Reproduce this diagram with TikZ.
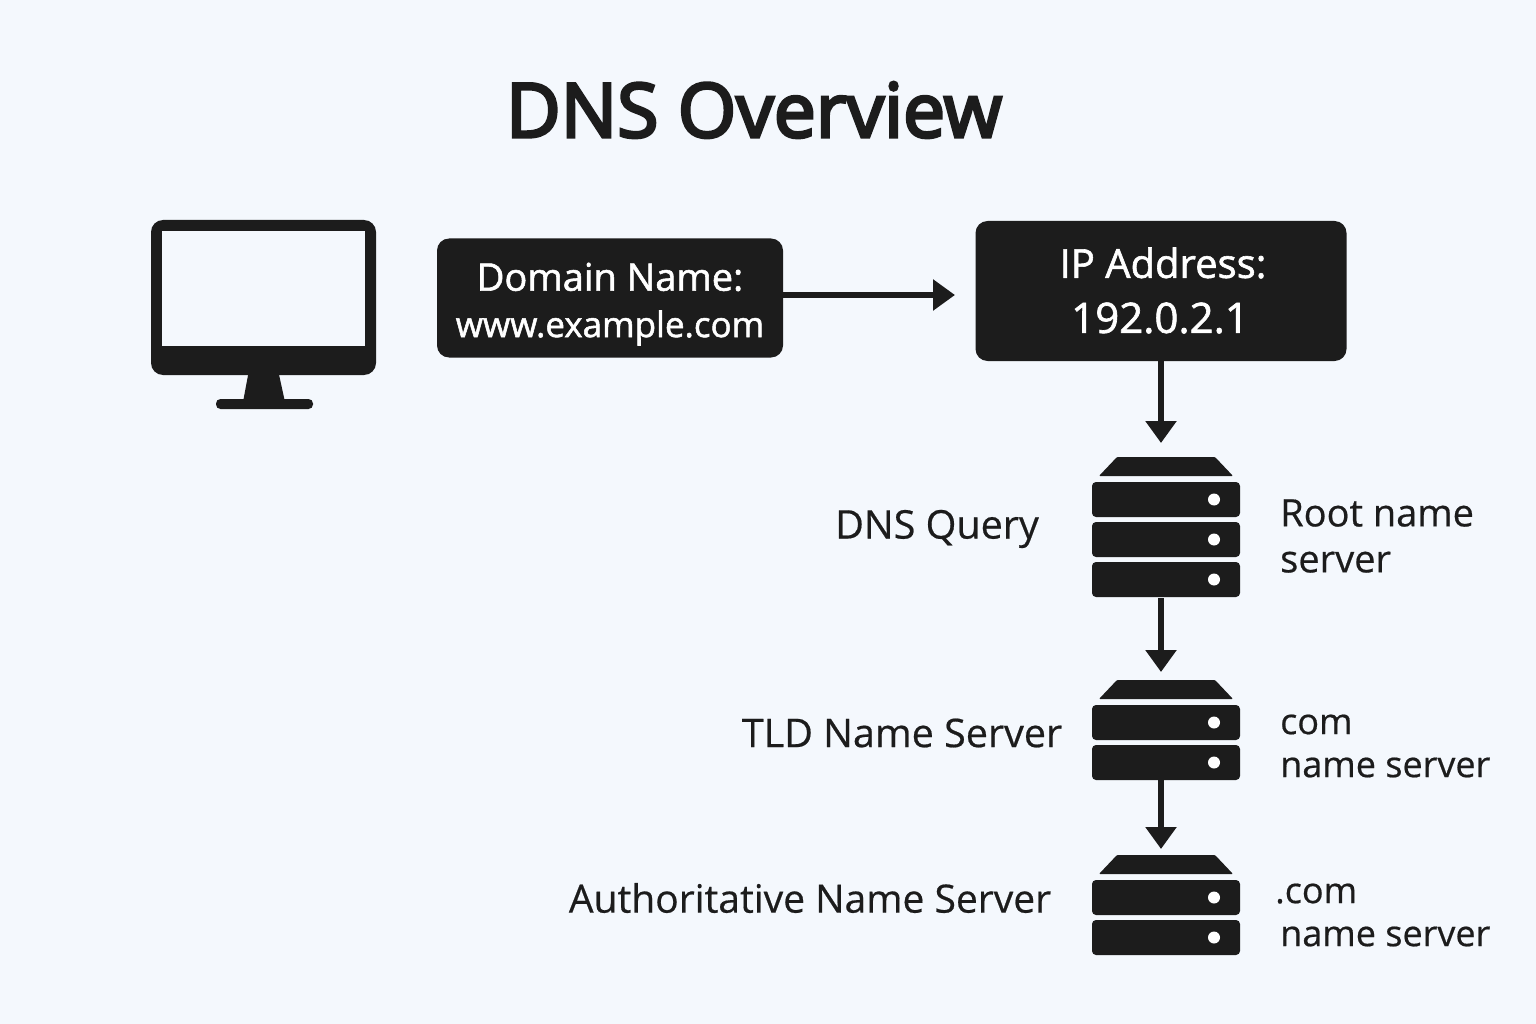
\documentclass[tikz,border=0pt]{standalone}
\usepackage{fontspec}
\setmainfont[FakeBold=0.5]{Open Sans}
\newfontfamily\medf[FakeBold=1.5]{Open Sans}
\newfontfamily\titlef[FakeBold=4]{Open Sans}
\usetikzlibrary{arrows.meta}
\definecolor{ink}{HTML}{1C1C1C}
\definecolor{bgc}{HTML}{F4F8FD}
\tikzset{x=1pt,y=-1pt,
 box/.style={fill=ink,rounded corners=12pt,text=white,align=center,inner sep=0pt},
 lbl/.style={text=ink,inner sep=0pt},
 lblm/.style={lbl,align=left,anchor=west},
 arr/.style={draw=ink,line width=5.5pt,-{Triangle[length=22pt,width=30pt]}},
 pt/.style={inner sep=0pt,minimum size=0pt}}
\newcommand{\srvunit}[2]{%
 \fill[ink,rounded corners=4pt] (#1-74,#2) rectangle (#1+74,#2+35);
 \fill[white] (#1+48,#2+17.5) circle (6);}
\newcommand{\srvtop}[2]{%
 \fill[ink,rounded corners=1pt] (#1-67,#2+19) -- (#1-49,#2) -- (#1+49,#2) -- (#1+67,#2+19) -- cycle;}
\begin{document}
\begin{tikzpicture}
\useasboundingbox (0,0) rectangle (1536,1024);
\fill[bgc] (0,0) rectangle (1536,1024);
\node[text=ink,inner sep=0pt,font=\titlef\fontsize{75}{80}\selectfont] (title) at (754,110) {DNS Overview};
% monitor
\fill[ink,rounded corners=12pt] (151,220) rectangle (376,375);
\fill[bgc] (162,231) rectangle (365,346);
\fill[ink] (249,370) -- (278,370) -- (285,402) -- (243,402) -- cycle;
\fill[ink,rounded corners=4.5pt] (216,399) rectangle (313,409);
\node[pt] (mon) at (263,300) {};
% boxes
\node[box,minimum width=346pt,minimum height=119pt] (dom) at (610,298) {};
\node[text=white,inner sep=0pt,font=\medf\fontsize{38}{40}\selectfont] (d1) at (610,277) {Domain Name:};
\node[text=white,inner sep=0pt,font=\medf\fontsize{35}{36}\selectfont] (d2) at (610,328) {www.example.com};
\node[box,minimum width=371pt,minimum height=140pt] (ip) at (1161,291) {};
\node[text=white,inner sep=0pt,font=\medf\fontsize{40}{44}\selectfont] (i1) at (1163,263) {IP Address:};
\node[text=white,inner sep=0pt,font=\medf\fontsize{42}{44}\selectfont] (i2) at (1160,318) {192.0.2.1};
% servers
\srvtop{1166}{457}\srvunit{1166}{482}\srvunit{1166}{522}\srvunit{1166}{562}
\node[pt] (s1t) at (1161,457) {};
\node[pt] (s1b) at (1161,598) {};
\srvtop{1166}{680}\srvunit{1166}{705}\srvunit{1166}{745}
\node[pt] (s2t) at (1161,680) {};
\node[pt] (s2b) at (1161,780) {};
\srvtop{1166}{855}\srvunit{1166}{880}\srvunit{1166}{920}
\node[pt] (s3t) at (1161,855) {};
% arrows
\draw[arr] (dom.east |- 0,295) -- (955,295);
\draw[arr] (ip.south -| s1t) -- (1161,443);
\draw[arr] (s1b) -- (1161,672);
\draw[arr] (s2b) -- (1161,849);
% labels
\node[lbl,font=\fontsize{39.5}{44}\selectfont] (q) at (937,529) {DNS Query};
\node[lbl,font=\fontsize{39.5}{44}\selectfont] (t) at (902,733) {TLD Name Server};
\node[lbl,font=\fontsize{39}{44}\selectfont] (a) at (810,898) {Authoritative Name Server};
\node[lblm,font=\fontsize{38}{46}\selectfont] (r) at (1280,536) {Root name\\server};
\node[lblm,font=\fontsize{36}{43}\selectfont] (c) at (1280,746) {com\\name server};
\node[lblm,font=\fontsize{36}{43}\selectfont] (dc) at (1280,915) {\hspace{-5pt}.com\\name server};
\end{tikzpicture}
\end{document}
